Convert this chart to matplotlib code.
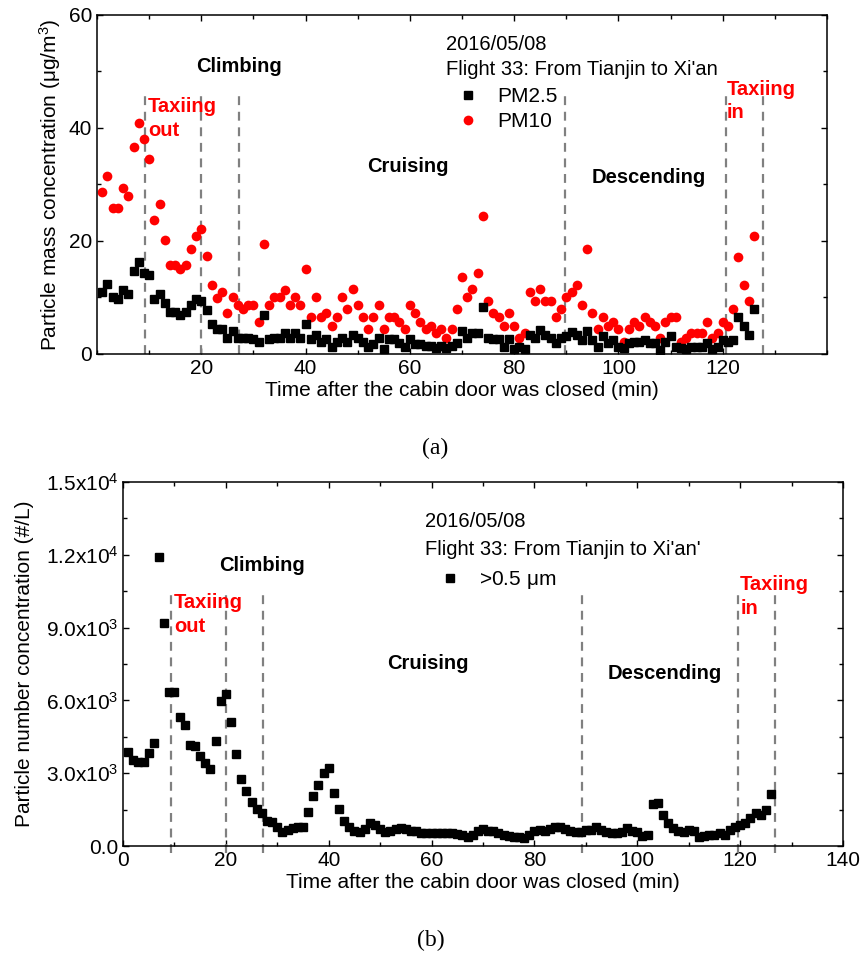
import numpy as np
import matplotlib
matplotlib.use('Agg')
import matplotlib.pyplot as plt
from matplotlib.ticker import MultipleLocator, FixedLocator, FuncFormatter

plt.rcParams.update({'mathtext.default': 'regular',
                     'font.family': ['Liberation Sans', 'DejaVu Sans']})

# ---- data: (a) particle mass concentration, ug/m3, one point per minute
minutes = np.arange(1, 127)
pm25 = [11.0, 12.3, 10.1, 9.7, 11.3, 10.6, 14.7, 16.2, 14.3, 14.0,
        9.7, 10.6, 9.0, 7.4, 7.4, 6.9, 7.4, 8.7, 9.7, 9.4,
        7.8, 5.3, 4.5, 4.5, 2.9, 4.1, 2.9, 2.9, 2.9, 2.6,
        2.1, 6.9, 2.6, 2.9, 2.9, 3.7, 2.9, 3.7, 2.9, 5.3,
        2.6, 3.4, 2.2, 2.6, 1.3, 2.2, 2.9, 2.2, 3.4, 2.9,
        2.2, 1.3, 1.8, 2.9, 0.8, 2.6, 2.6, 1.9, 1.3, 2.6,
        1.8, 1.8, 1.4, 1.4, 1.0, 1.4, 1.0, 1.4, 2.0, 4.1,
        2.9, 3.7, 3.7, 8.3, 2.9, 2.6, 2.6, 1.3, 2.6, 0.8,
        1.3, 0.8, 3.4, 2.9, 4.2, 3.4, 2.8, 2.0, 2.8, 3.1,
        3.8, 3.4, 2.5, 4.1, 2.5, 1.3, 3.1, 1.9, 2.5, 1.3,
        1.0, 1.9, 2.2, 2.2, 2.5, 1.9, 1.9, 0.7, 2.2, 3.1,
        1.3, 1.0, 0.9, 1.3, 1.3, 1.3, 1.9, 0.9, 1.3, 2.5,
        2.2, 2.5, 6.5, 5.0, 3.4, 7.9]
pm10 = [28.7, 31.5, 25.8, 25.8, 29.4, 28.0, 36.6, 40.9, 38.0, 34.5,
        23.7, 26.5, 20.1, 15.8, 15.8, 15.0, 15.8, 18.6, 20.8, 22.2,
        17.3, 12.2, 9.9, 10.9, 7.2, 10.0, 8.6, 7.9, 8.7, 8.7,
        5.7, 19.5, 8.6, 10.0, 10.0, 11.4, 8.6, 10.0, 8.6, 15.1,
        6.5, 10.0, 6.6, 7.2, 5.0, 6.5, 10.0, 7.9, 11.5, 8.6,
        6.5, 4.4, 6.5, 8.6, 4.4, 6.5, 6.5, 5.7, 4.4, 8.6,
        7.2, 5.7, 4.4, 5.0, 3.7, 4.4, 2.9, 4.4, 7.9, 13.6,
        10.0, 11.5, 14.3, 24.4, 9.3, 7.2, 6.5, 5.0, 7.2, 5.0,
        2.9, 3.7, 10.9, 9.3, 11.5, 9.3, 9.3, 6.5, 7.9, 10.0,
        10.9, 12.2, 8.6, 18.6, 7.2, 4.4, 6.5, 5.0, 5.7, 4.4,
        2.2, 4.4, 5.7, 5.0, 6.5, 5.7, 5.0, 2.9, 5.7, 6.5,
        6.5, 2.2, 2.9, 3.7, 3.7, 3.7, 5.7, 2.9, 3.7, 5.7,
        5.0, 7.9, 17.2, 12.2, 9.3, 20.9]

# ---- data: (b) particle number concentration >0.5 um, #/L
pn05 = [3874, 3544, 3475, 3475, 3819, 4231, 11923, 9176, 6360, 6360,
        5330, 4986, 4162, 4135, 3709, 3434, 3159, 4341, 5975, 6264,
        5124, 3791, 2747, 2280, 1827, 1511, 1346, 1044, 1003, 769,
        591, 659, 728, 797, 797, 1415, 2060, 2514, 2994, 3200,
        2170, 1525, 1044, 769, 632, 563, 687, 962, 865, 687,
        577, 632, 714, 728, 687, 632, 618, 549, 549, 549,
        549, 549, 522, 522, 481, 453, 385, 453, 632, 687,
        632, 632, 522, 467, 426, 385, 385, 316, 453, 632,
        659, 632, 687, 769, 797, 687, 632, 591, 591, 659,
        659, 769, 659, 591, 549, 522, 591, 728, 632, 591,
        412, 453, 1717, 1786, 1277, 961, 728, 632, 591, 659,
        618, 385, 412, 453, 453, 522, 453, 659, 769, 865,
        934, 1140, 1374, 1277, 1484, 2143]

# flight phase boundaries (min)
phase_a = [9.2, 20.0, 27.3, 89.8, 120.6, 127.8]
phase_b = [9.3, 20.0, 27.3, 89.2, 119.6, 126.8]

fs = 14.5
fig = plt.figure(figsize=(8.61, 9.6), dpi=100)
ax1 = fig.add_axes([0.1127, 0.6313, 0.8479, 0.3531])
ax2 = fig.add_axes([0.1429, 0.1187, 0.8362, 0.3792])

for ax in (ax1, ax2):
    ax.tick_params(which='both', direction='in', top=True, right=True,
                   labelsize=15, width=1)
    ax.tick_params(which='major', length=4.5)
    ax.tick_params(which='minor', length=3)
    for s in ax.spines.values():
        s.set_linewidth(1.1)
    ax.set_xlabel('Time after the cabin door was closed (min)', fontsize=15, labelpad=2)

# ---------------- (a)
ax1.vlines(phase_a, 0, 46, colors='#808080', linestyles=(0, (4, 3)), linewidth=1.6)
ax1.plot(minutes, pm25, 's', color='black', markersize=6.3, label='PM2.5', zorder=3)
ax1.plot(minutes, pm10, 'o', color='red', markersize=7, markeredgewidth=0,
         label='PM10', zorder=2)
ax1.set_xlim(0, 140)
ax1.set_ylim(0, 60)
ax1.xaxis.set_major_locator(FixedLocator([20, 40, 60, 80, 100, 120]))
ax1.xaxis.set_minor_locator(MultipleLocator(10))
ax1.yaxis.set_major_locator(MultipleLocator(20))
ax1.yaxis.set_minor_locator(MultipleLocator(10))
ax1.set_ylabel('Particle mass concentration ($\\mu$g/m$^3$)', fontsize=15, labelpad=4)

bold = dict(fontsize=fs, fontweight='bold', va='center')
ax1.text(27.3, 50.8, 'Climbing', ha='center', **bold)
ax1.text(9.8, 41.7, 'Taxiing\nout', ha='left', color='red', linespacing=1.3, **bold)
ax1.text(59.6, 33.1, 'Cruising', ha='center', **bold)
ax1.text(105.8, 31.3, 'Descending', ha='center', **bold)
ax1.text(120.8, 44.8, 'Taxiing\nin', ha='left', color='red', linespacing=1.3, **bold)
ax1.text(66.9, 54.7, '2016/05/08', fontsize=fs, va='center')
ax1.text(66.9, 50.3, "Flight 33: From Tianjin to Xi'an", fontsize=fs, va='center')
ax1.legend(loc='upper left', bbox_to_anchor=(0.4795, 0.787), frameon=False, fontsize=15,
           handlelength=2.0, handletextpad=0.4, borderpad=0, labelspacing=0.3,
           borderaxespad=0)

# ---------------- (b)
ax2.vlines(phase_b, -300, 10550, colors='#808080', linestyles=(0, (4, 3)), linewidth=1.6,
           clip_on=False)
ax2.plot(minutes, pn05, 's', color='black', markersize=6, label='>0.5 $\\mu$m')
ax2.set_xlim(0, 140)
ax2.set_ylim(0, 15000)
ax2.xaxis.set_major_locator(MultipleLocator(20))
ax2.xaxis.set_minor_locator(MultipleLocator(10))
ax2.yaxis.set_major_locator(MultipleLocator(3000))
ax2.yaxis.set_minor_locator(MultipleLocator(1500))


def sci(v, pos):
    if v == 0:
        return '0.0'
    e = int(np.floor(np.log10(abs(v))))
    return '%.1fx10$^{%d}$' % (v / 10 ** e, e)


ax2.yaxis.set_major_formatter(FuncFormatter(sci))
ax2.set_ylabel('Particle number concentration (#/L)', fontsize=15, labelpad=8)

ax2.text(27.1, 11578, 'Climbing', ha='center', **bold)
ax2.text(9.9, 9540, 'Taxiing\nout', ha='left', color='red', linespacing=1.3, **bold)
ax2.text(59.3, 7540, 'Cruising', ha='center', **bold)
ax2.text(105.4, 7128, 'Descending', ha='center', **bold)
ax2.text(120.0, 10280, 'Taxiing\nin', ha='left', color='red', linespacing=1.3, **bold)
ax2.text(58.7, 13363, '2016/05/08', fontsize=fs, va='center')
ax2.text(58.7, 12237, "Flight 33: From Tianjin to Xi'an'", fontsize=fs, va='center')
ax2.legend(loc='upper left', bbox_to_anchor=(0.425, 0.76), frameon=False, fontsize=15,
           handlelength=2.0, handletextpad=0.4, borderpad=0, borderaxespad=0)

fig.text(0.505, 1 - 448 / 960, '(a)', family='Liberation Serif', fontsize=17,
         ha='center', va='center')
fig.text(0.5, 1 - 940 / 960, '(b)', family='Liberation Serif', fontsize=17,
         ha='center', va='center')

fig.savefig('out.png', dpi=100)
